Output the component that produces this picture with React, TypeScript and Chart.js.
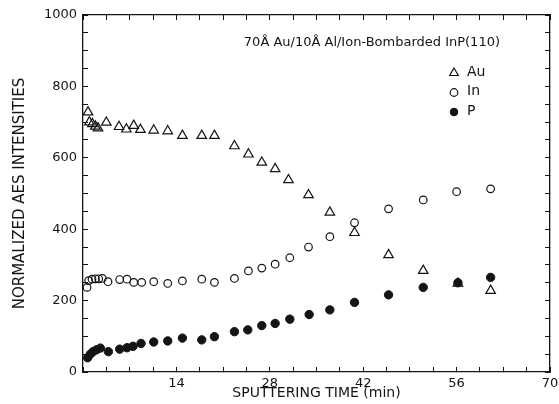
import React, { useEffect, useRef } from "react";
import { Chart, registerables } from "chart.js";

Chart.register(...registerables);

// ---- Data ----
const auTime = [0.75, 0.95, 1.4, 1.85, 2.25, 3.5, 5.4, 6.5, 7.6, 8.6, 10.6, 12.7, 14.9, 17.8, 19.7, 22.7, 24.8, 26.8, 28.8, 30.8, 33.8, 37.0, 40.7, 45.8, 51.0, 56.2, 61.1];
const auValues = [728, 700, 695, 688, 683, 699, 687, 680, 690, 679, 677, 675, 662, 662, 662, 633, 610, 587, 569, 538, 496, 447, 390, 328, 284, 248, 228];

const inTime = [0.6, 0.85, 1.35, 1.85, 2.35, 2.9, 3.75, 5.5, 6.6, 7.6, 8.8, 10.6, 12.7, 14.9, 17.8, 19.7, 22.7, 24.8, 26.8, 28.8, 31.0, 33.8, 37.0, 40.7, 45.8, 51.0, 56.0, 61.1];
const inValues = [237, 256, 260, 261, 261, 262, 253, 259, 260, 251, 251, 253, 248, 255, 260, 251, 262, 283, 291, 302, 320, 350, 379, 418, 457, 482, 505, 513];

const pTime = [0.7, 1.1, 1.5, 2.0, 2.6, 3.8, 5.5, 6.6, 7.5, 8.7, 10.6, 12.7, 14.9, 17.8, 19.7, 22.7, 24.7, 26.8, 28.8, 31.0, 33.9, 37.0, 40.7, 45.8, 51.0, 56.2, 61.1];
const pValues = [40, 50, 57, 62, 67, 57, 64, 68, 72, 80, 84, 87, 95, 90, 99, 113, 118, 130, 136, 148, 161, 174, 195, 216, 237, 250, 265];

const seriesLabels = ["Au", "In", "P"];
const xTickLabels = [14, 28, 42, 56, 70];
const yTickLabels = [0, 200, 400, 600, 800, 1000];
const titleText = "70Å Au/10Å Al/Ion-Bombarded InP(110)";
const xAxisTitle = "SPUTTERING TIME (min)";
const yAxisTitle = "NORMALIZED AES INTENSITIES";

const INK = "#141414";
const FONT = "DejaVu Sans";
const TICK_IN = -5;

function toPoints(xs: number[], ys: number[]) {
  return xs.map((x, i) => ({ x, y: ys[i] }));
}

function drawMarker(ctx: CanvasRenderingContext2D, style: string, r: number, filled: boolean, x: number, y: number) {
  ctx.beginPath();
  if (style === "triangle") {
    let a = 0;
    ctx.moveTo(x + Math.sin(a) * r, y - Math.cos(a) * r);
    a += (2 * Math.PI) / 3;
    ctx.lineTo(x + Math.sin(a) * r, y - Math.cos(a) * r);
    a += (2 * Math.PI) / 3;
    ctx.lineTo(x + Math.sin(a) * r, y - Math.cos(a) * r);
    ctx.closePath();
  } else {
    ctx.arc(x, y, r, 0, Math.PI * 2);
  }
  if (filled) {
    ctx.fillStyle = INK;
    ctx.fill();
  }
  ctx.stroke();
}

const annotationPlugin = {
  id: "titleLegend",
  afterDraw(chart: any) {
    const ctx: CanvasRenderingContext2D = chart.ctx;
    const a = chart.chartArea;
    ctx.save();
    ctx.fillStyle = INK;
    ctx.font = `13px "${FONT}"`;
    ctx.textAlign = "right";
    ctx.textBaseline = "middle";
    ctx.fillText(titleText, a.right - 50, a.top + 28);

    ctx.font = `14px "${FONT}"`;
    ctx.textAlign = "left";
    chart.data.datasets.forEach((ds: any, i: number) => {
      const y = a.top + 57 + i * 19.5;
      const x = a.left + 371;
      ctx.strokeStyle = INK;
      ctx.lineWidth = ds.borderWidth;
      const filled = ds.backgroundColor !== "rgba(0,0,0,0)";
      drawMarker(ctx, ds.pointStyle, ds.pointStyle === "triangle" ? 5 : 3.8, filled, x, y + 1);
      ctx.fillStyle = INK;
      ctx.fillText(ds.label, x + 13, y);
    });
    ctx.restore();
  },
};

const frameGrid = {
  drawOnChartArea: false,
  drawTicks: true,
  tickLength: TICK_IN,
  color: INK,
  lineWidth: 1,
};
const frameBorder = { display: true, color: INK, width: 1.3 };

function zeroPad(s: any) {
  s.paddingLeft = 0;
  s.paddingRight = 0;
  s.paddingTop = 0;
  s.paddingBottom = 0;
}

export default function App() {
  const canvasRef = useRef<HTMLCanvasElement | null>(null);

  useEffect(() => {
    if (!canvasRef.current) return;
    const chart = new Chart(canvasRef.current, {
      type: "scatter",
      data: {
        datasets: [
          {
            label: seriesLabels[0],
            data: toPoints(auTime, auValues),
            pointStyle: "triangle",
            pointRadius: 5.5,
            borderWidth: 1.2,
            borderColor: INK,
            backgroundColor: "rgba(0,0,0,0)",
            showLine: false,
          },
          {
            label: seriesLabels[1],
            data: toPoints(inTime, inValues),
            pointStyle: "circle",
            pointRadius: 3.8,
            borderWidth: 1.2,
            borderColor: INK,
            backgroundColor: "rgba(0,0,0,0)",
            showLine: false,
          },
          {
            label: seriesLabels[2],
            data: toPoints(pTime, pValues),
            pointStyle: "circle",
            pointRadius: 4.2,
            borderWidth: 1,
            borderColor: INK,
            backgroundColor: INK,
            showLine: false,
          },
        ],
      },
      options: {
        animation: false,
        responsive: false,
        maintainAspectRatio: false,
        layout: { padding: { top: 15, right: 9, left: 0, bottom: 0 } },
        plugins: {
          legend: { display: false },
          tooltip: { enabled: false },
        },
        scales: {
          x: {
            type: "linear",
            position: "bottom",
            min: 0,
            max: 70,
            afterFit: (s: any) => {
              s.height = 32;
              zeroPad(s);
            },
            ticks: {
              stepSize: 3.5,
              autoSkip: false,
              color: INK,
              padding: 4 - TICK_IN,
              font: { family: FONT, size: 13 },
              maxRotation: 0,
              callback: (v: any) => (xTickLabels.includes(Number(v)) ? String(v) : ""),
            },
            grid: frameGrid,
            border: frameBorder,
            title: {
              display: true,
              text: xAxisTitle,
              color: INK,
              font: { family: FONT, size: 14 },
              padding: { top: 0, bottom: 2 },
            },
          },
          x2: {
            type: "linear",
            position: "top",
            display: true,
            min: 0,
            max: 70,
            afterFit: (s: any) => {
              s.height = 0;
              zeroPad(s);
            },
            ticks: { stepSize: 3.5, autoSkip: false, display: false },
            grid: frameGrid,
            border: frameBorder,
          },
          y: {
            type: "linear",
            position: "left",
            min: 0,
            max: 1000,
            afterFit: (s: any) => {
              s.width = 83;
              zeroPad(s);
            },
            ticks: {
              stepSize: 50,
              autoSkip: false,
              color: INK,
              padding: 6 - TICK_IN,
              font: { family: FONT, size: 13 },
              callback: (v: any) => (yTickLabels.includes(Number(v)) ? String(v) : ""),
            },
            grid: frameGrid,
            border: frameBorder,
            title: {
              display: true,
              text: yAxisTitle,
              color: INK,
              font: { family: FONT, size: 15 },
              padding: { top: 11, bottom: 0 },
            },
          },
          y2: {
            type: "linear",
            position: "right",
            display: true,
            min: 0,
            max: 1000,
            afterFit: (s: any) => {
              s.width = 0;
              zeroPad(s);
            },
            ticks: { stepSize: 50, autoSkip: false, display: false },
            grid: frameGrid,
            border: frameBorder,
          },
        },
      },
      plugins: [annotationPlugin],
    });
    return () => chart.destroy();
  }, []);

  return (
    <div style={{ position: "fixed", left: 0, top: 0, width: 559, height: 404, background: "#fff" }}>
      <canvas ref={canvasRef} width={559} height={404} style={{ display: "block", width: 559, height: 404 }} />
    </div>
  );
}
